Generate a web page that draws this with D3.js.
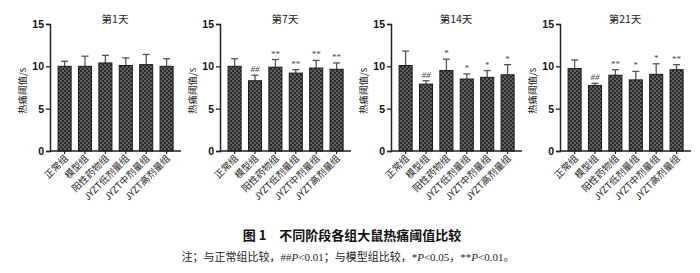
<!DOCTYPE html>
<html>
<head>
<meta charset="utf-8">
<script src="https://cdn.jsdelivr.net/npm/d3@7"></script>
<style>
  body { margin: 0; background: #fff; }
  svg { display: block; }
</style>
</head>
<body>
<div id="chart"></div>
<script>
// groups and panels
var groups = ["正常组", "模型组", "阳性药物组", "JYZT低剂量组", "JYZT中剂量组", "JYZT高剂量组"];
var days = ["第1天", "第7天", "第14天", "第21天"];
var yTicks = [0, 5, 10, 15];

// mean threshold (s), one array per day
var meanDay1 = [10.0, 10.0, 10.4, 10.1, 10.2, 10.0];
var meanDay7 = [10.0, 8.3, 9.9, 9.2, 9.8, 9.65];
var meanDay14 = [10.1, 7.9, 9.5, 8.5, 8.7, 9.0];
var meanDay21 = [9.75, 7.75, 8.95, 8.4, 9.05, 9.6];

// upper error (sd)
var errDay1 = [0.6, 1.2, 0.9, 0.9, 1.2, 0.9];
var errDay7 = [0.9, 0.65, 0.9, 0.4, 0.9, 0.75];
var errDay14 = [1.7, 0.4, 1.35, 0.6, 0.8, 1.2];
var errDay21 = [1.0, 0.25, 0.65, 1.0, 1.25, 0.6];

// significance marks
var sigDay1 = ["", "", "", "", "", ""];
var sigDay7 = ["", "##", "**", "**", "**", "**"];
var sigDay14 = ["", "##", "*", "*", "*", "*"];
var sigDay21 = ["", "##", "**", "*", "*", "**"];

var means = [meanDay1, meanDay7, meanDay14, meanDay21];
var errs = [errDay1, errDay7, errDay14, errDay21];
var sigs = [sigDay1, sigDay7, sigDay14, sigDay21];

var width = 700, height = 273;
var axisX = [50, 220, 391, 560];
var cjk = "'Noto Sans CJK SC', sans-serif";

var svg = d3.select("#chart")
    .append("svg")
    .attr("width", width)
    .attr("height", height);

// checkered fill of the bars
var pat = svg.append("defs").append("pattern")
    .attr("id", "check")
    .attr("patternUnits", "userSpaceOnUse")
    .attr("width", 4)
    .attr("height", 4);
pat.append("rect").attr("width", 4).attr("height", 4).attr("fill", "#2a2a2a");
pat.append("rect").attr("width", 2).attr("height", 2).attr("fill", "#626262");
pat.append("rect").attr("x", 2).attr("y", 2).attr("width", 2).attr("height", 2).attr("fill", "#626262");

var y = d3.scaleLinear().domain([0, 15]).range([151, 24]);

days.forEach(function (day, i) {
    var ax = axisX[i];
    var x = d3.scaleBand()
        .domain(groups)
        .range([ax + 4, ax + 127.2])
        .paddingInner(0.36)
        .paddingOuter(0.2);

    var g = svg.append("g");

    var rows = groups.map(function (name, k) {
        return { name: name, mean: means[i][k], err: errs[i][k], sig: sigs[i][k] };
    });

    // error bars (upper only)
    var eb = g.selectAll(".err").data(rows).enter().append("g").attr("class", "err")
        .attr("stroke", "#555").attr("stroke-width", 1.3);
    eb.append("line")
        .attr("x1", function (d) { return x(d.name) + x.bandwidth() / 2; })
        .attr("x2", function (d) { return x(d.name) + x.bandwidth() / 2; })
        .attr("y1", function (d) { return y(d.mean); })
        .attr("y2", function (d) { return y(d.mean + d.err); });
    eb.append("line")
        .attr("x1", function (d) { return x(d.name) + x.bandwidth() / 2 - 3.5; })
        .attr("x2", function (d) { return x(d.name) + x.bandwidth() / 2 + 3.5; })
        .attr("y1", function (d) { return y(d.mean + d.err); })
        .attr("y2", function (d) { return y(d.mean + d.err); });

    g.selectAll(".bar").data(rows).enter().append("rect")
        .attr("class", "bar")
        .attr("x", function (d) { return x(d.name); })
        .attr("width", x.bandwidth())
        .attr("y", function (d) { return y(d.mean); })
        .attr("height", function (d) { return y(0) - y(d.mean); })
        .attr("fill", "url(#check)")
        .attr("stroke", "#1a1a1a")
        .attr("stroke-width", 1);

    g.selectAll(".sig").data(rows).enter().append("text")
        .attr("class", "sig")
        .attr("x", function (d) { return x(d.name) + x.bandwidth() / 2; })
        .attr("y", function (d) { return y(d.mean + d.err) - 3; })
        .attr("text-anchor", "middle")
        .style("font-family", "'Liberation Serif', serif")
        .style("font-style", function (d) { return d.sig.indexOf("#") >= 0 ? "italic" : "normal"; })
        .style("font-size", "9px")
        .attr("fill", "#444")
        .text(function (d) { return d.sig; });

    // y axis
    var yAxis = d3.axisLeft(y).tickValues(yTicks).tickSize(4).tickPadding(2);
    var ya = g.append("g").attr("transform", "translate(" + ax + ",0)").call(yAxis);
    ya.select(".domain").attr("stroke", "#222").attr("stroke-width", 1.5);
    ya.selectAll(".tick line").attr("stroke", "#222").attr("stroke-width", 1.3);
    ya.selectAll(".tick text")
        .style("font-family", "'Liberation Sans', Arial, sans-serif")
        .style("font-weight", "bold")
        .style("font-size", "10.5px")
        .attr("fill", "#111");

    // x axis
    var xAxis = d3.axisBottom(x).tickSize(3).tickSizeOuter(0);
    var xa = g.append("g").attr("transform", "translate(0," + y(0) + ")").call(xAxis);
    xa.select(".domain").attr("d", "M" + ax + ",0H" + (ax + 131)).attr("stroke", "#222").attr("stroke-width", 1.5);
    xa.selectAll(".tick line").attr("stroke", "#222").attr("stroke-width", 1.2);
    xa.selectAll(".tick text")
        .attr("text-anchor", "end")
        .attr("dy", null)
        .attr("y", 0)
        .attr("transform", "translate(4,8) rotate(-45)")
        .style("font-family", cjk)
        .style("font-size", "9.5px")
        .attr("fill", "#222");

    // panel title
    g.append("text")
        .attr("x", ax + 65)
        .attr("y", 23)
        .attr("text-anchor", "middle")
        .style("font-family", cjk)
        .style("font-size", "10.5px")
        .attr("fill", "#222")
        .text(day);

    // y label
    g.append("text")
        .attr("transform", "translate(" + (ax - 24) + "," + y(7.1) + ") rotate(-90)")
        .attr("text-anchor", "middle")
        .style("font-family", cjk)
        .style("font-size", "9.5px")
        .attr("fill", "#222")
        .text("热痛阈值/s");
});

// figure caption
svg.append("text")
    .attr("x", 352)
    .attr("y", 240)
    .attr("text-anchor", "middle")
    .style("font-family", cjk)
    .style("font-weight", "bold")
    .style("font-size", "13px")
    .attr("fill", "#111")
    .text("图 1　不同阶段各组大鼠热痛阈值比较");

var note = svg.append("text")
    .attr("x", 348)
    .attr("y", 261)
    .attr("text-anchor", "middle")
    .style("font-family", "'Liberation Serif', " + cjk)
    .style("font-size", "11px")
    .attr("fill", "#222");
var parts = [
    ["注；与正常组比较，", false], ["##", false], ["P", true], ["<0.01；与模型组比较，*", false],
    ["P", true], ["<0.05，**", false], ["P", true], ["<0.01。", false]
];
parts.forEach(function (p) {
    note.append("tspan")
        .style("font-style", p[1] ? "italic" : "normal")
        .text(p[0]);
});
</script>
</body>
</html>
